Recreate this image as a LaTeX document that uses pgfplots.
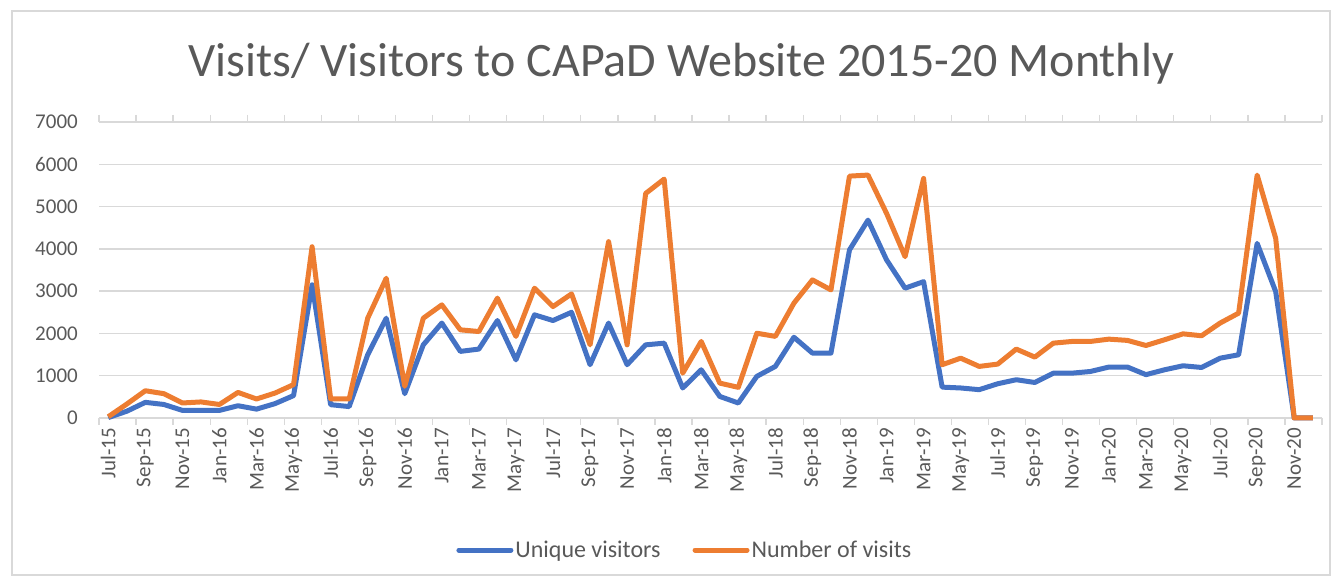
\documentclass[border=0pt]{standalone}
\usepackage{fontspec}
\setmainfont{Carlito}
\usepackage{pgfplots}
\pgfplotsset{compat=1.18}
\definecolor{cblue}{HTML}{4472C4}
\definecolor{corange}{HTML}{ED7D31}
\definecolor{tcol}{HTML}{595959}
\definecolor{gcol}{HTML}{D9D9D9}
\begin{document}
\begin{tikzpicture}[x=1pt,y=1pt]
\path[use as bounding box] (0,0) rectangle (1343,578);
\draw[gcol, line width=1.5pt] (12,3) rectangle (1330,567);
\begin{axis}[
  at={(99pt,160pt)}, anchor=south west,
  scale only axis, width=1223pt, height=296pt,
  xmin=-0.5, xmax=65.5, ymin=0, ymax=7000,
  clip=false,
  axis line style={draw=none},
  ytick={0,1000,...,7000},
  ymajorgrids, grid style={gcol, line width=1.3pt},
  ytick style={draw=none},
  /pgf/number format/assume math mode=true,
  /pgf/number format/1000 sep={},
  yticklabel style={font=\fontsize{21}{24}\selectfont, text=tcol, anchor=east, inner sep=0pt, xshift=-21pt},
  xtick={0,2,...,64},
  xticklabels={Jul-15,Sep-15,Nov-15,Jan-16,Mar-16,May-16,Jul-16,Sep-16,Nov-16,Jan-17,Mar-17,May-17,Jul-17,Sep-17,Nov-17,Jan-18,Mar-18,May-18,Jul-18,Sep-18,Nov-18,Jan-19,Mar-19,May-19,Jul-19,Sep-19,Nov-19,Jan-20,Mar-20,May-20,Jul-20,Sep-20,Nov-20},
  xtick style={draw=none},
  xticklabel style={font=\fontsize{21}{24}\selectfont, text=tcol, rotate=90, anchor=east, inner sep=0pt},
  xticklabel shift=10pt,
  extra x ticks={-0.5,1.5,...,65.5},
  extra x tick labels={},
  extra x tick style={xtick style={draw=gcol, line width=1.3pt}, major tick length=7pt, tick align=outside, grid=none},
  title={Visits/ Visitors to CAPaD Website 2015-20 Monthly},
  title style={font=\fontsize{48}{53}\selectfont, text=tcol, at={(0.476,1.178)}, anchor=center},
  legend columns=2,
  legend style={draw=none, fill=none, at={(0.479,-0.446)}, anchor=center,
    font=\fontsize{24}{28}\selectfont, text=tcol,
    /tikz/every even column/.append style={column sep=30pt}},
  legend image code/.code={\draw[#1, line width=5pt, line cap=round] (0pt,0pt) -- (52pt,0pt);},
]
\addplot[cblue, line width=5pt, line join=round] coordinates {
(0,10)(1,160)(2,370)(3,320)(4,180)(5,180)(6,180)(7,290)(8,210)(9,340)
(10,530)(11,3150)(12,315)(13,270)(14,1495)(15,2360)(16,575)(17,1730)(18,2245)(19,1575)
(20,1630)(21,2305)(22,1375)(23,2440)(24,2305)(25,2500)(26,1260)(27,2245)(28,1260)(29,1730)
(30,1770)(31,710)(32,1140)(33,510)(34,355)(35,985)(36,1220)(37,1910)(38,1535)(39,1535)
(40,3975)(41,4680)(42,3740)(43,3070)(44,3225)(45,730)(46,710)(47,670)(48,810)(49,905)
(50,840)(51,1060)(52,1060)(53,1100)(54,1205)(55,1205)(56,1025)(57,1140)(58,1235)(59,1195)
(60,1415)(61,1495)(62,4130)(63,2990)(64,0)(65,0)
};
\addlegendentry{Unique visitors}
\addplot[corange, line width=5pt, line join=round] coordinates {
(0,30)(1,330)(2,645)(3,575)(4,355)(5,380)(6,320)(7,605)(8,450)(9,590)
(10,790)(11,4050)(12,455)(13,450)(14,2360)(15,3305)(16,750)(17,2360)(18,2675)(19,2085)
(20,2045)(21,2835)(22,1930)(23,3070)(24,2635)(25,2935)(26,1730)(27,4170)(28,1730)(29,5310)
(30,5650)(31,1060)(32,1810)(33,825)(34,725)(35,2005)(36,1930)(37,2715)(38,3265)(39,3030)
(40,5720)(41,5745)(42,4840)(43,3815)(44,5665)(45,1260)(46,1415)(47,1220)(48,1275)(49,1630)
(50,1440)(51,1770)(52,1810)(53,1810)(54,1865)(55,1835)(56,1715)(57,1850)(58,1990)(59,1945)
(60,2245)(61,2480)(62,5745)(63,4250)(64,0)(65,0)
};
\addlegendentry{Number of visits}
\end{axis}
\end{tikzpicture}
\end{document}
